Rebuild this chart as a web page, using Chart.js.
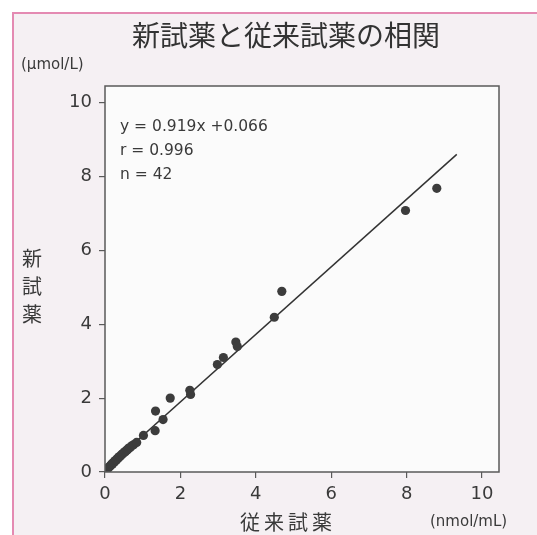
<!DOCTYPE html>
<html lang="ja">
<head>
<meta charset="utf-8">
<script src="https://cdn.jsdelivr.net/npm/chart.js@4"></script>
<style>
  body { margin: 0; background: #fff; }
  #wrap { position: relative; width: 537px; height: 535px; overflow: hidden; }
  #frame {
    position: absolute; left: 12px; top: 12px; right: 0; bottom: 0;
    background: #f5f0f3;
    border-left: 2px solid #e48ab2; border-top: 2px solid #e48ab2;
  }
  canvas { position: absolute; left: 0; top: 0; }
  .t { position: absolute; color: #3a3a3a; white-space: nowrap; }
  #title { left: 86px; width: 400px; top: 14px; text-align: center;
    font: 400 28px "Noto Sans CJK JP", sans-serif; color: #333; }
  #yunit { left: 21px; top: 55px; font: 15px "DejaVu Sans", sans-serif; }
  #xunit { left: 430px; top: 512px; font: 15px "DejaVu Sans", sans-serif; }
  #ytitle { left: 22px; top: 244px; font: 20px "Noto Sans CJK JP", sans-serif; line-height: 28px; }
  #xtitle { left: 240px; top: 507px; font: 20px "Noto Sans CJK JP", sans-serif; letter-spacing: 4px; }
  #stats { left: 120px; top: 114px; font: 15.5px "DejaVu Sans", sans-serif; line-height: 24px; }
</style>
</head>
<body>
<div id="wrap">
  <div id="frame"></div>
  <canvas id="chart" width="537" height="535"></canvas>
  <div class="t" id="title">新試薬と従来試薬の相関</div>
  <div class="t" id="yunit">(μmol/L)</div>
  <div class="t" id="xunit">(nmol/mL)</div>
  <div class="t" id="ytitle">新<br>試<br>薬</div>
  <div class="t" id="xtitle">従来試薬</div>
  <div class="t" id="stats">y = 0.919x +0.066<br>r = 0.996<br>n = 42</div>
</div>
<script>
// 従来試薬 (x) と 新試薬 (y) の測定値 42 点
const oldReagent = [
  0.04, 0.07, 0.10, 0.12, 0.15, 0.17, 0.20, 0.22, 0.25, 0.27,
  0.30, 0.32, 0.35, 0.37, 0.40, 0.43, 0.45, 0.48, 0.51, 0.54,
  0.57, 0.60, 0.63, 0.67, 0.71, 0.76, 0.84, 1.02, 1.33, 1.54,
  1.34, 1.73, 2.25, 2.27, 2.98, 3.14, 3.47, 3.51, 4.49, 4.69,
  7.97, 8.80,
];
const newReagent = [
  0.05, 0.09, 0.12, 0.15, 0.17, 0.21, 0.22, 0.26, 0.27, 0.31,
  0.32, 0.36, 0.37, 0.41, 0.42, 0.46, 0.48, 0.50, 0.54, 0.55,
  0.59, 0.60, 0.65, 0.66, 0.71, 0.74, 0.80, 0.99, 1.12, 1.42,
  1.65, 2.00, 2.21, 2.10, 2.91, 3.10, 3.52, 3.40, 4.19, 4.89,
  7.08, 7.68,
];

// 回帰直線の両端
const fitX = [0, 9.33];
const fitY = [0.07, 8.6];

const tickValues = [0, 2, 4, 6, 8, 10];
const axisMax = 10.45;

const points = oldReagent.map((x, i) => ({ x: x, y: newReagent[i] }));
const fitLine = fitX.map((x, i) => ({ x: x, y: fitY[i] }));

const ink = "#3a3a3a";
const axisColor = "#5a5a5a";

// プロット枠 (上・右も囲む)
const boxPlugin = {
  id: "box",
  beforeDatasetsDraw(chart) {
    const { ctx, chartArea: a } = chart;
    ctx.save();
    ctx.fillStyle = "#fbfbfb";
    ctx.fillRect(a.left, a.top, a.right - a.left, a.bottom - a.top);
    ctx.restore();
  },
  afterDraw(chart) {
    const { ctx, chartArea: a } = chart;
    ctx.save();
    ctx.strokeStyle = axisColor;
    ctx.lineWidth = 1.5;
    ctx.strokeRect(a.left, a.top, a.right - a.left, a.bottom - a.top);
    ctx.restore();
  },
};

const axis = (fitSize, pad) => ({
  type: "linear",
  min: 0,
  max: axisMax,
  afterBuildTicks: (scale) => {
    scale.ticks = tickValues.map((v) => ({ value: v }));
  },
  afterFit: fitSize,
  grid: {
    drawOnChartArea: false,
    drawTicks: true,
    tickLength: 6,
    color: axisColor,
    lineWidth: 1.2,
  },
  border: { display: false },
  ticks: {
    color: ink,
    font: { family: "DejaVu Sans", size: 18 },
    padding: pad,
  },
});

new Chart(document.getElementById("chart"), {
  type: "scatter",
  data: {
    datasets: [
      {
        data: points,
        pointRadius: 4.6,
        pointBackgroundColor: "#3c3c3c",
        pointBorderWidth: 0,
      },
      {
        data: fitLine,
        showLine: true,
        pointRadius: 0,
        borderColor: "#333",
        borderWidth: 1.5,
      },
    ],
  },
  options: {
    responsive: false,
    animation: false,
    layout: { padding: { left: 60, right: 38, top: 86, bottom: 33 } },
    scales: {
      x: axis((s) => { s.height = 30; }, 6),
      y: axis((s) => { s.width = 45; }, 7),
    },
    plugins: {
      legend: { display: false },
      tooltip: { enabled: false },
    },
  },
  plugins: [boxPlugin],
});
</script>
</body>
</html>
